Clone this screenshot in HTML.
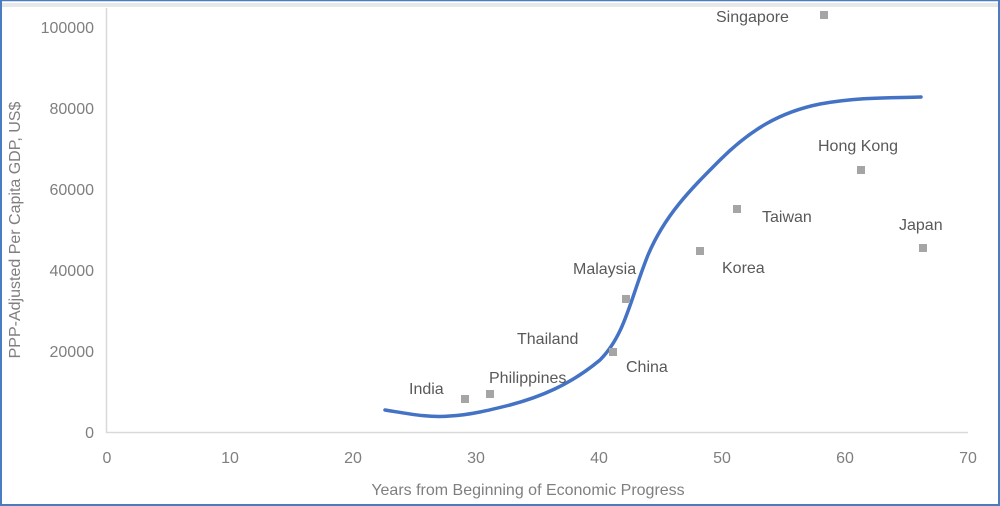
<!DOCTYPE html>
<html><head><meta charset="utf-8"><style>
body{margin:0;background:#fff}
svg{display:block;font-family:"Liberation Sans",sans-serif}
</style></head><body>
<svg width="1000" height="506" viewBox="0 0 1000 506">
<rect x="0" y="0" width="1000" height="506" fill="#fff"/>
<rect x="0" y="3" width="1000" height="4" fill="#e8e8e8"/>
<line x1="0" y1="0.5" x2="1000" y2="0.5" stroke="#4a7cc0" stroke-width="1.5"/>
<line x1="1" y1="0" x2="1" y2="506" stroke="#4a7cc0" stroke-width="2"/>
<line x1="999" y1="0" x2="999" y2="506" stroke="#4a7cc0" stroke-width="2"/>
<line x1="0" y1="505" x2="1000" y2="505" stroke="#4a7cc0" stroke-width="2"/>
<line x1="106.5" y1="8" x2="106.5" y2="433" stroke="#d9d9d9" stroke-width="1.5"/>
<line x1="106" y1="432.5" x2="968" y2="432.5" stroke="#d9d9d9" stroke-width="1.5"/>
<g fill="#7f7f7f" font-size="16" text-anchor="end">
<text x="94" y="33">100000</text><text x="94" y="114">80000</text><text x="94" y="195">60000</text>
<text x="94" y="276">40000</text><text x="94" y="357">20000</text><text x="94" y="438">0</text>
</g>
<g fill="#7f7f7f" font-size="16" text-anchor="middle">
<text x="107" y="463">0</text><text x="230" y="463">10</text><text x="353" y="463">20</text>
<text x="476" y="463">30</text><text x="599" y="463">40</text><text x="722" y="463">50</text>
<text x="845" y="463">60</text><text x="968" y="463">70</text>
<text x="528" y="495">Years from Beginning of Economic Progress</text>
<text transform="translate(20,230) rotate(-90)">PPP-Adjusted Per Capita GDP, US$</text>
</g>
<path d="M385,410 C410,414 430,418 450,416 C470,415 490,410 510,405 C540,397 570,385 600,360 C625,335 630,300 648,255 C665,215 690,190 720,160 C750,130 780,112 820,104 C860,97 890,98 921,97" fill="none" stroke="#4472c4" stroke-width="3.5" stroke-linecap="round"/>
<g fill="#a5a5a5">
<rect x="461" y="395" width="8" height="8"/><rect x="486" y="390" width="8" height="8"/>
<rect x="609" y="348" width="8" height="8"/><rect x="622" y="295" width="8" height="8"/>
<rect x="696" y="247" width="8" height="8"/><rect x="733" y="205" width="8" height="8"/>
<rect x="820" y="11" width="8" height="8"/><rect x="857" y="166" width="8" height="8"/>
<rect x="919" y="244" width="8" height="8"/>
</g>
<g fill="#595959" font-size="16">
<text x="409" y="394">India</text><text x="489" y="383">Philippines</text>
<text x="517" y="344">Thailand</text><text x="626" y="372">China</text>
<text x="573" y="274">Malaysia</text><text x="722" y="273">Korea</text>
<text x="762" y="222">Taiwan</text><text x="716" y="22">Singapore</text>
<text x="818" y="151">Hong Kong</text><text x="899" y="230">Japan</text>
</g>
</svg>
</body></html>
